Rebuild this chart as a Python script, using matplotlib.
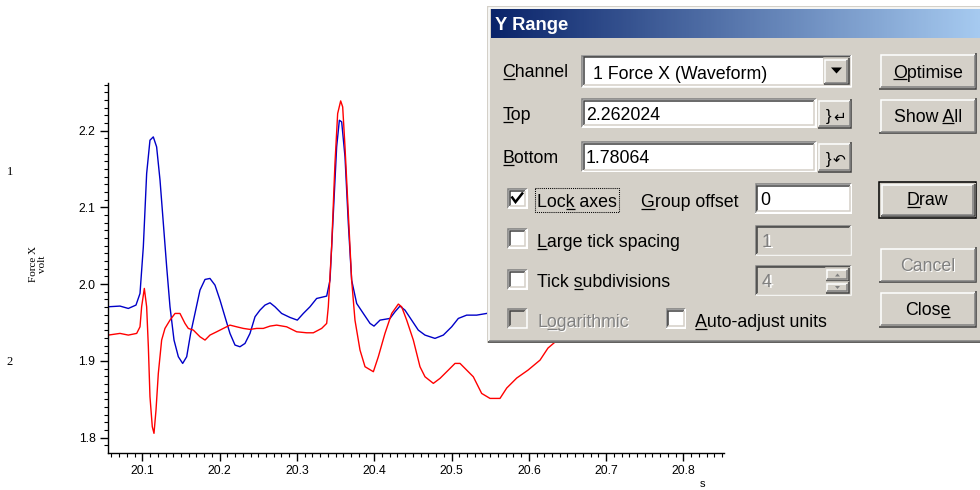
import numpy as np
import matplotlib
matplotlib.use('Agg')
import matplotlib.pyplot as plt
from matplotlib.patches import Rectangle, Polygon
from matplotlib.colors import LinearSegmentedColormap
from matplotlib.font_manager import FontProperties
from matplotlib.ticker import MultipleLocator, FormatStrFormatter

# Kanal 1 (blau) - Zeit in s, Spannung in V
blue_t = [20.056, 20.0711, 20.0819, 20.0918, 20.097, 20.1013, 20.1056, 20.1099, 20.1142,
          20.1185, 20.1229, 20.1272, 20.1315, 20.1358, 20.141, 20.1466, 20.1522, 20.1574,
          20.1625, 20.1681, 20.1746, 20.1811, 20.1875, 20.194, 20.2005, 20.2069, 20.2134,
          20.2199, 20.2263, 20.2328, 20.2393, 20.2458, 20.2522, 20.2587, 20.2652, 20.2716,
          20.2802, 20.291, 20.3005, 20.3083, 20.3169, 20.3255, 20.3385, 20.3428, 20.3471,
          20.3514, 20.3549, 20.3579, 20.3622, 20.3665, 20.3708, 20.3773, 20.3859, 20.3946,
          20.3997, 20.4075, 20.4204, 20.4269, 20.4333, 20.4398, 20.4484, 20.457, 20.4657,
          20.4786, 20.4894, 20.5002, 20.5088, 20.5196, 20.5325, 20.5454, 20.552]
blue_v = [1.9705, 1.9714, 1.9683, 1.9727, 1.9878, 2.0486, 2.1441, 2.1875, 2.1918,
          2.1788, 2.1354, 2.0790, 2.0226, 1.9705, 1.9271, 1.9054, 1.8967, 1.9054,
          1.9358, 1.9618, 1.9922, 2.0061, 2.0074, 1.9987, 1.9792, 1.9575, 1.9358,
          1.9206, 1.9184, 1.9227, 1.9358, 1.9575, 1.9661, 1.9727, 1.9757, 1.9705,
          1.9618, 1.9566, 1.9531, 1.9618, 1.9705, 1.9813, 1.9844, 2.0052, 2.0920,
          2.1788, 2.2135, 2.2114, 2.1658, 2.0790, 2.0052, 1.9748, 1.9618, 1.9488,
          1.9453, 1.9531, 1.9553, 1.9640, 1.9714, 1.9661, 1.9531, 1.9401, 1.9336,
          1.9293, 1.9336, 1.9444, 1.9553, 1.9596, 1.9596, 1.9618, 1.9640]

# Kanal 2 (rot)
red_t = [20.056, 20.0711, 20.0819, 20.0927, 20.097, 20.0991, 20.1026, 20.1056, 20.1078,
         20.1099, 20.1129, 20.1151, 20.1177, 20.1207, 20.125, 20.1293, 20.1358, 20.1423,
         20.1487, 20.1552, 20.1595, 20.166, 20.1746, 20.1811, 20.1875, 20.1962, 20.2048,
         20.2134, 20.222, 20.2307, 20.2393, 20.2479, 20.2565, 20.2652, 20.2738, 20.2867,
         20.2997, 20.3126, 20.3212, 20.332, 20.3385, 20.3406, 20.3449, 20.3492, 20.3527,
         20.3566, 20.3592, 20.3622, 20.3665, 20.3708, 20.3751, 20.3816, 20.3881, 20.3989,
         20.4053, 20.4139, 20.4226, 20.4312, 20.4355, 20.442, 20.4506, 20.4592, 20.4657,
         20.4765, 20.4851, 20.4959, 20.5045, 20.511, 20.5196, 20.5282, 20.539, 20.5498,
         20.5627, 20.5714, 20.5843, 20.599, 20.6145, 20.6248, 20.6339, 20.643]
red_v = [1.9336, 1.9358, 1.9336, 1.9358, 1.9444, 1.9705, 1.9944, 1.9705, 1.9184,
         1.8533, 1.8142, 1.8056, 1.8359, 1.8837, 1.9271, 1.9423, 1.9531, 1.9618,
         1.9618, 1.9488, 1.9423, 1.9401, 1.9314, 1.9271, 1.9336, 1.9379, 1.9423,
         1.9466, 1.9444, 1.9423, 1.9410, 1.9423, 1.9423, 1.9453, 1.9466, 1.9444,
         1.9379, 1.9366, 1.9366, 1.9423, 1.9488, 1.9705, 2.0486, 2.1571, 2.2222,
         2.2387, 2.2309, 2.1788, 2.0920, 2.0052, 1.9531, 1.9141, 1.8924, 1.8859,
         1.9054, 1.9358, 1.9618, 1.9740, 1.9705, 1.9531, 1.9271, 1.8924, 1.8793,
         1.8707, 1.8772, 1.8880, 1.8967, 1.8967, 1.8880, 1.8793, 1.8576, 1.8511,
         1.8511, 1.8646, 1.8776, 1.8880, 1.9010, 1.9167, 1.9245, 1.9336]

y_top = 2.262024
y_bottom = 1.78064
x_range = (20.0556, 20.8525)

W, H = 980, 490
fig = plt.figure(figsize=(W / 100, H / 100), dpi=100)
fig.patch.set_facecolor('white')

# --- Diagramm ---
ax = fig.add_axes([108 / W, 1 - 452.5 / H, (724 - 108) / W, (452.5 - 83) / H])
ax.plot(blue_t, blue_v, color='#0000C8', lw=1.0)
ax.plot(red_t, red_v, color='#FF0000', lw=1.0)
ax.set_xlim(*x_range)
ax.set_ylim(y_bottom, y_top)
for s in ('top', 'right'):
    ax.spines[s].set_visible(False)
for s in ('left', 'bottom'):
    ax.spines[s].set_linewidth(1.0)
ax.xaxis.set_major_locator(MultipleLocator(0.1))
ax.xaxis.set_minor_locator(MultipleLocator(0.01))
ax.yaxis.set_major_locator(MultipleLocator(0.1))
ax.yaxis.set_minor_locator(MultipleLocator(0.01))
ax.xaxis.set_major_formatter(FormatStrFormatter('%.1f'))
ax.yaxis.set_major_formatter(FormatStrFormatter('%.1f'))
ax.tick_params(which='major', direction='out', length=6, width=1.0, pad=3)
ax.tick_params(which='minor', direction='out', length=3, width=0.8)
for lab in ax.get_xticklabels() + ax.get_yticklabels():
    lab.set_fontfamily('Liberation Sans')
    lab.set_fontsize(8.8)

fig.text(10 / W, 1 - 172 / H, '1', family='Liberation Serif', size=9, ha='center', va='center')
fig.text(10 / W, 1 - 362 / H, '2', family='Liberation Serif', size=9, ha='center', va='center')
fig.text(38 / W, 1 - 264 / H, 'Force X\nvolt', family='Liberation Serif', size=8,
         rotation=90, ha='center', va='center', multialignment='center', linespacing=1.1)
fig.text(702 / W, 1 - 489 / H, 's', family='Liberation Sans', size=8, ha='center', va='bottom')

# --- Dialog "Y Range" ---
ov = fig.add_axes([0, 0, 1, 1], zorder=10)
ov.patch.set_alpha(0)
ov.axis('off')

FACE = '#D4D0C8'
fig.canvas.draw()
rend = fig.canvas.get_renderer()


def frame(x0, y0, x1, y1, tl_o, br_o, tl_i, br_i, face=None):
    if face is not None:
        ov.add_patch(Rectangle((x0, y0), x1 - x0, y1 - y0, fc=face, ec='none'))
    for d, tl, br in ((0.75, tl_o, br_o), (2.25, tl_i, br_i)):
        ov.plot([x0 + d, x0 + d, x1 - d], [y1 - d, y0 + d, y0 + d], color=tl, lw=1.1,
                solid_joinstyle='miter', solid_capstyle='butt')
        ov.plot([x0 + d, x1 - d, x1 - d], [y1 - d, y1 - d, y0 + d], color=br, lw=1.1,
                solid_joinstyle='miter', solid_capstyle='butt')


def raised(x0, y0, x1, y1, face=FACE):
    frame(x0, y0, x1, y1, FACE, '#404040', '#FFFFFF', '#808080', face)


def sunken(x0, y0, x1, y1, face='white'):
    frame(x0, y0, x1, y1, '#808080', '#FFFFFF', '#404040', FACE, face)


def width(s, prop):
    return rend.get_text_width_height_descent(s, prop, ismath=False)[0]


def txt(x, yb, s, ul=None, ha='left', disabled=False, bold=False, size=12.8,
        color='black', family='Liberation Sans'):
    prop = FontProperties(family=family, size=size, weight='bold' if bold else 'normal')
    layers = [(1.2, 'white'), (0, '#808080')] if disabled else [(0, color)]
    for off, col in layers:
        ov.text(x + off, yb + off, s, fontproperties=prop, color=col, ha=ha, va='baseline')
        if ul is not None:
            wf = width(s, prop)
            wp = width(s[:ul + 1], prop)
            wc = width(s[ul], prop)
            start = x if ha == 'left' else x - wf / 2
            ov.plot([start + wp - wc + off, start + wp + off], [yb + 2 + off, yb + 2 + off],
                    color=col, lw=0.9, solid_capstyle='butt')


# Fensterrahmen und Titelleiste
frame(487, 6, 986, 343, FACE, '#404040', '#FFFFFF', '#808080', FACE)
tb = LinearSegmentedColormap.from_list('tb', ['#0A246A', '#A6CAF0'])
ov.imshow(np.linspace(0, 1, 300)[None, :], cmap=tb, extent=(491, 980, 38.5, 9.5),
          aspect='auto', interpolation='bilinear', zorder=1.5)
txt(495, 30.5, 'Y Range', bold=True, size=13.2, color='white')

# Beschriftungen links
txt(502.5, 77, 'Channel', ul=0)
txt(502.5, 120, 'Top', ul=0)
txt(502.5, 163, 'Bottom', ul=0)

# Kanal-Auswahl
sunken(581.5, 55, 852, 87.5)
raised(823, 57.5, 849.5, 85)
ov.add_patch(Polygon([(831, 67.5), (842, 67.5), (836.5, 73.5)], closed=True, fc='black', ec='none'))
txt(593, 79, '1 Force X (Waveform)')

# Top / Bottom Felder
sunken(581.5, 98.5, 816.5, 127.5)
raised(817, 98.5, 852, 128.5)
txt(586, 120, '2.262024')
txt(826, 121, '}', size=12)
txt(833, 121, '\u21b5', size=11, family='DejaVu Sans')

sunken(581.5, 141.5, 816.5, 172)
raised(817, 141.5, 852, 172.5)
txt(586, 163, '1.78064')
txt(826, 164, '}', size=12)
txt(833, 164, '\u21b6', size=11, family='DejaVu Sans')


# Checkboxen
def checkbox(x, y, face='white'):
    sunken(x, y, x + 20, y + 20, face)


checkbox(507.5, 188.5)
ov.plot([511.5, 515.5, 523], [196.5, 202, 192.5], color='black', lw=1.8,
        solid_joinstyle='miter', solid_capstyle='butt')
txt(537, 206.5, 'Lock axes', ul=3)
ov.add_patch(Rectangle((535, 187.5), 83.5, 24.5, fill=False, ec='black', lw=0.75, ls=(0, (1, 1))))
txt(641, 206.5, 'Group offset', ul=0)
sunken(755, 183.5, 852, 213.5)
txt(760, 205, '0')

checkbox(507.5, 228.5)
txt(537, 246.5, 'Large tick spacing', ul=0)
sunken(755, 225, 852, 256, FACE)
txt(762, 246.5, '1', disabled=True)

checkbox(507.5, 269.5)
txt(537, 286.5, 'Tick subdivisions', ul=5)
sunken(755, 265, 852, 296, FACE)
txt(762, 286.5, '4', disabled=True)
raised(825, 267.5, 849.5, 281.5)
raised(825, 281.5, 849.5, 293.5)
ov.add_patch(Polygon([(835, 276.5), (840, 276.5), (837.5, 273.5)], closed=True, fc='#808080', ec='none'))
ov.add_patch(Polygon([(835, 286), (840, 286), (837.5, 289)], closed=True, fc='#808080', ec='none'))

checkbox(507.5, 308.5, FACE)
txt(537, 326.5, 'Logarithmic', ul=1, disabled=True)
checkbox(666, 308.5)
txt(695, 326.5, 'Auto-adjust units', ul=0)

# Schaltflächen rechts
bx0, bx1 = 878.5, 977
raised(bx0, 52.5, bx1, 89.5)
txt((bx0 + bx1) / 2, 77.5, 'Optimise', ul=0, ha='center')
raised(bx0, 97.5, bx1, 134)
txt((bx0 + bx1) / 2, 121.5, 'Show All', ul=5, ha='center')
ov.add_patch(Rectangle((bx0 + 0.75, 181.75), bx1 - bx0 - 1.5, 36.5, fill=False, ec='black', lw=1.1))
raised(bx0 + 1.5, 183, bx1 - 1.5, 217)
txt((bx0 + bx1) / 2, 205, 'Draw', ul=0, ha='center')
raised(bx0, 246.5, bx1, 283)
txt((bx0 + bx1) / 2, 271, 'Cancel', ha='center', disabled=True)
raised(bx0, 290.5, bx1, 327.5)
txt((bx0 + bx1) / 2, 315, 'Close', ul=4, ha='center')

ov.set_xlim(0, W)
ov.set_ylim(H, 0)

fig.savefig('out.png', dpi=100)
